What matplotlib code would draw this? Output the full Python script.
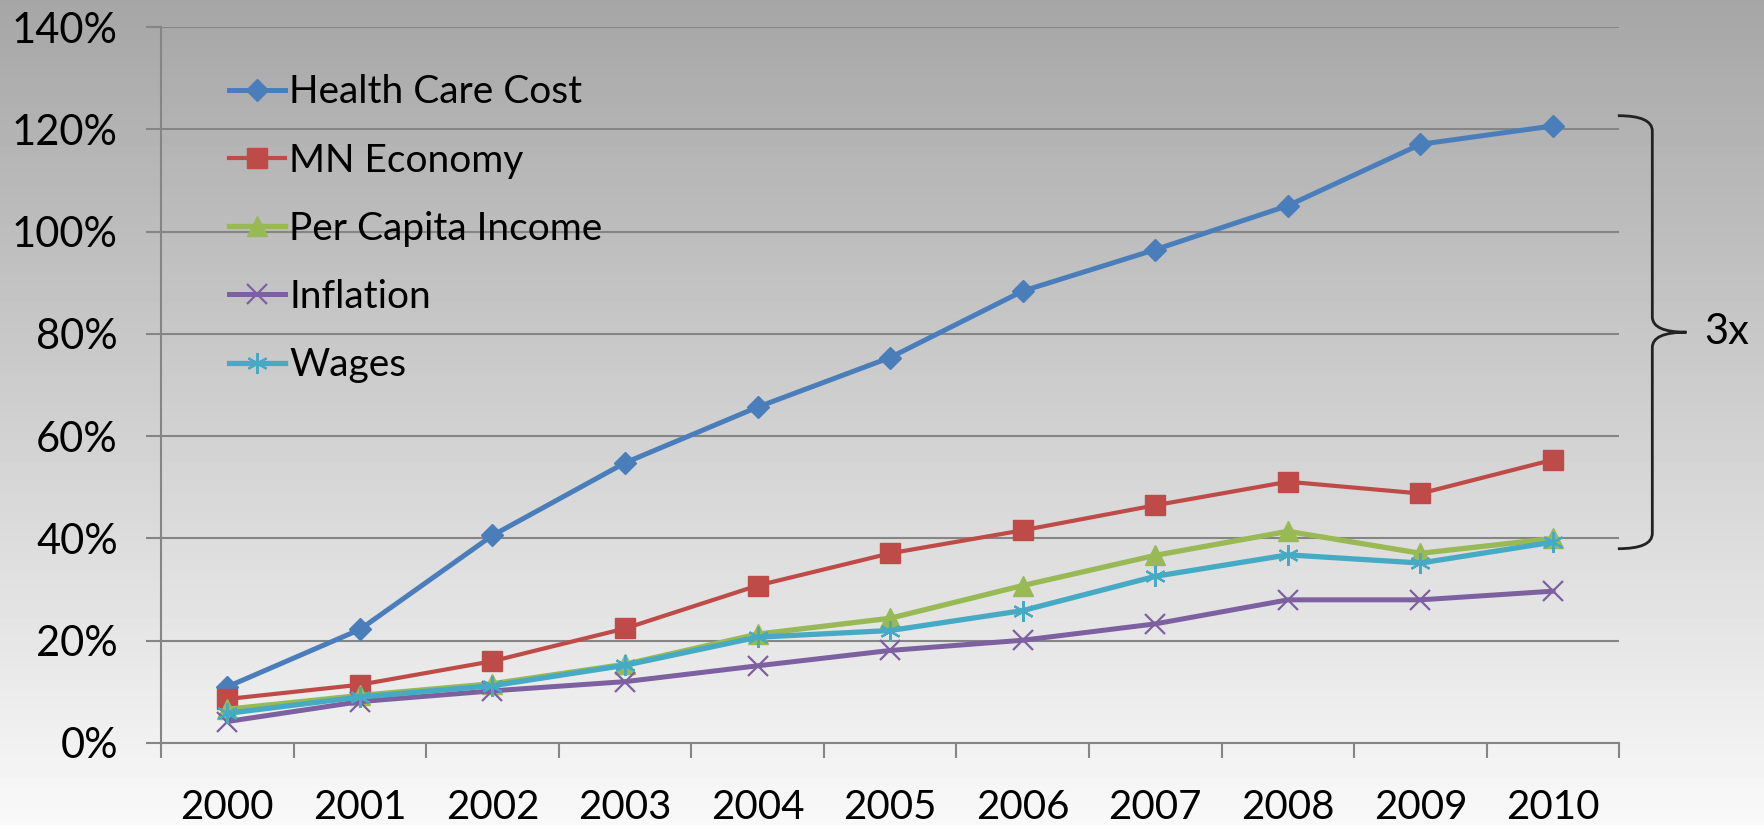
import numpy as np
import matplotlib
matplotlib.use('Agg')
import matplotlib.pyplot as plt
from matplotlib.path import Path
from matplotlib.patches import PathPatch
from matplotlib.transforms import blended_transform_factory

plt.rcParams['font.family'] = ['Lato', 'DejaVu Sans']

years = ['2000', '2001', '2002', '2003', '2004', '2005',
         '2006', '2007', '2008', '2009', '2010']
health_care = [0.110, 0.222, 0.406, 0.548, 0.657, 0.754, 0.884, 0.965, 1.051, 1.171, 1.207]
mn_economy = [0.086, 0.114, 0.160, 0.224, 0.308, 0.371, 0.416, 0.465, 0.511, 0.488, 0.554]
per_capita = [0.066, 0.093, 0.116, 0.154, 0.213, 0.244, 0.308, 0.367, 0.414, 0.371, 0.400]
inflation = [0.042, 0.081, 0.102, 0.120, 0.151, 0.181, 0.201, 0.233, 0.280, 0.280, 0.297]
wages = [0.058, 0.090, 0.112, 0.152, 0.207, 0.220, 0.259, 0.326, 0.368, 0.352, 0.393]

series = [
    ('Health Care Cost', health_care, '#4A7EBB', 'D', 11.5, 3.6),
    ('MN Economy', mn_economy, '#BE4B48', 's', 15, 3.0),
    ('Per Capita Income', per_capita, '#98B954', '^', 15, 3.8),
    ('Inflation', inflation, '#7D60A0', 'x', 15, 3.6),
    ('Wages', wages, '#46AAC5', (6, 2, 0), 15, 3.8),
]

fig = plt.figure(figsize=(17.64, 8.25), dpi=100)

# grey gradient background
bg = fig.add_axes([0, 0, 1, 1], zorder=-10)
grad = np.linspace(0.65, 0.975, 256).reshape(-1, 1)
bg.imshow(grad, aspect='auto', cmap='gray', vmin=0, vmax=1, extent=[0, 1, 0, 1], origin='upper')
bg.axis('off')

ax = fig.add_axes([0.0913, 0.0994, 0.918 - 0.0913, 0.967 - 0.0994])
ax.set_facecolor('none')

x = np.arange(len(years))
for name, vals, col, mk, ms, lw in series:
    if mk in ('x', (6, 2, 0)):
        ax.plot(x, vals, color=col, lw=lw, marker=mk, ms=ms, mew=1.6,
                label=name, clip_on=False, zorder=3)
    else:
        ax.plot(x, vals, color=col, lw=lw, marker=mk, ms=ms, mec=col,
                label=name, clip_on=False, zorder=3)

ax.set_xlim(-0.5, len(years) - 0.5)
ax.set_ylim(0, 1.4)
ax.set_yticks(np.arange(0, 1.41, 0.2))
ax.set_yticklabels([f'{int(round(v * 100))}%' for v in np.arange(0, 1.41, 0.2)])
ax.yaxis.grid(True, color='#858585', lw=1.5)
ax.set_axisbelow(True)

ax.set_xticks(x)
ax.set_xticklabels(years)
ax.set_xticks(np.arange(-0.5, len(years)), minor=True)
ax.tick_params(axis='x', which='major', length=0, pad=33, labelsize=29)
ax.tick_params(axis='x', which='minor', length=11, width=1.5, color='#858585')
ax.tick_params(axis='y', length=11, width=1.5, color='#858585', pad=20, labelsize=30)

for s in ['top', 'right']:
    ax.spines[s].set_visible(False)
for s in ['left', 'bottom']:
    ax.spines[s].set_color('#858585')
    ax.spines[s].set_linewidth(1.5)

leg = ax.legend(loc='upper left', bbox_to_anchor=(0.130, 0.910), bbox_transform=fig.transFigure,
                frameon=False, fontsize=28, handlelength=1.42, handletextpad=0.12,
                labelspacing=0.83, borderpad=0, borderaxespad=0)

# brace showing the 3x gap in 2010
tr = blended_transform_factory(ax.transAxes, ax.transData)
top = health_care[-1] + 0.02
bot = per_capita[-1] - 0.02
mid = (top + bot) / 2
x0, xv, xt = 0.999, 1.0226, 1.046
r = 0.03
verts = [(x0, top), (xv, top), (xv, top - r),
         (xv, mid + r), (xv, mid), (xt, mid),
         (xv, mid), (xv, mid - r),
         (xv, bot + r), (xv, bot), (x0, bot)]
codes = [Path.MOVETO, Path.CURVE3, Path.CURVE3,
         Path.LINETO, Path.CURVE3, Path.CURVE3,
         Path.CURVE3, Path.CURVE3,
         Path.LINETO, Path.CURVE3, Path.CURVE3]
ax.add_patch(PathPatch(Path(verts, codes), transform=tr, fill=False,
                       edgecolor='#222222', lw=2, clip_on=False))
ax.text(1.058, mid, '3x', transform=tr, fontsize=30, va='center', ha='left')

fig.savefig('out.png', dpi=100)
